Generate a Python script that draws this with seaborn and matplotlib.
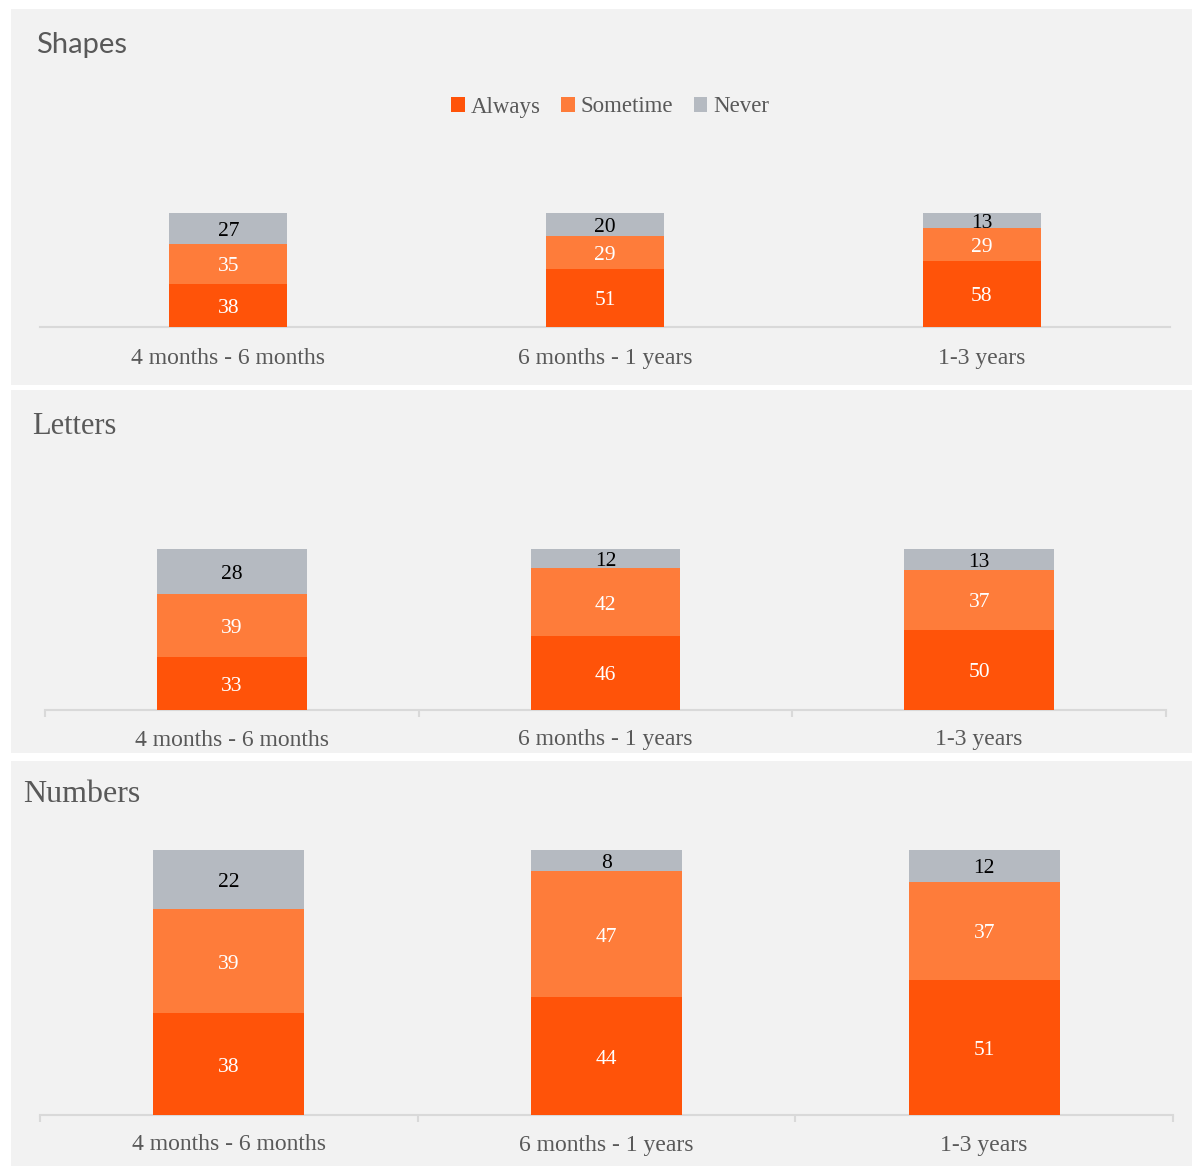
import matplotlib
matplotlib.use("Agg")
import matplotlib.pyplot as plt
from matplotlib.patches import Rectangle, Patch
import numpy as np
import seaborn as sns

categories = ["4 months - 6 months", "6 months - 1 years", "1-3 years"]
series_names = ["Always", "Sometime", "Never"]

shapes_always = [38, 51, 58]
shapes_sometime = [35, 29, 29]
shapes_never = [27, 20, 13]

letters_always = [33, 46, 50]
letters_sometime = [39, 42, 37]
letters_never = [28, 12, 13]

numbers_always = [38, 44, 51]
numbers_sometime = [39, 47, 37]
numbers_never = [22, 8, 12]

sns.set_theme(style="white")
plt.rcParams["font.family"] = ["Liberation Serif", "DejaVu Serif"]

COL_ALWAYS = "#FF5309"
COL_SOMETIME = "#FE7C3A"
COL_NEVER = "#B5BAC1"
PANEL_BG = "#F2F2F2"
AXIS_COL = "#D9D9D9"
TEXT_COL = "#595959"

W, H = 1193, 1167
fig = plt.figure(figsize=(W / 100, H / 100), dpi=100, facecolor="white")


def fx(px):
    return px / W


def fy(py):
    return 1 - py / H


# panel backgrounds (pixel boxes: left, top, right, bottom)
for (l, t, r, b) in [(11, 9, 1192, 385), (11, 390, 1192, 753), (11, 761, 1192, 1166)]:
    fig.patches.append(Rectangle((fx(l), fy(b)), fx(r - l), (b - t) / H,
                                 transform=fig.transFigure, facecolor=PANEL_BG,
                                 edgecolor="none", zorder=-5))

panels = [
    dict(title="Shapes", tx=36, ty=45, tfont=["Lato", "DejaVu Sans"], tsize=21,
         always=shapes_always, sometime=shapes_sometime, never=shapes_never,
         box=(40, 1170, 213, 327), width=0.313, ticks=False, label_y=358),
    dict(title="Letters", tx=32, ty=427, tfont=["Liberation Serif"], tsize=22,
         always=letters_always, sometime=letters_sometime, never=letters_never,
         box=(45, 1166, 549, 710), width=0.40, ticks=True, label_y=740),
    dict(title="Numbers", tx=23, ty=794, tfont=["Liberation Serif"], tsize=23,
         always=numbers_always, sometime=numbers_sometime, never=numbers_never,
         box=(40, 1173, 850, 1115), width=0.40, ticks=True, label_y=1145),
]

for p in panels:
    l, r, t, b = p["box"]
    ax = fig.add_axes([fx(l), fy(b), fx(r - l), (b - t) / H])
    ax.set_facecolor("none")

    a = np.array(p["always"], float)
    s = np.array(p["sometime"], float)
    n = np.array(p["never"], float)
    total = a + s + n
    a_pct, s_pct, n_pct = a / total * 100, s / total * 100, n / total * 100

    # 100% stacked bars: draw cumulative heights from the tallest down
    layers = [
        (a_pct + s_pct + n_pct, COL_NEVER),
        (a_pct + s_pct, COL_SOMETIME),
        (a_pct, COL_ALWAYS),
    ]
    for heights, col in layers:
        sns.barplot(x=categories, y=heights, color=col, saturation=1,
                    width=p["width"], linewidth=0, ax=ax, zorder=2)

    # segment value labels
    for i in range(len(categories)):
        bottoms = [0, a_pct[i], a_pct[i] + s_pct[i]]
        segs = [(a_pct[i], p["always"][i], "white"),
                (s_pct[i], p["sometime"][i], "white"),
                (n_pct[i], p["never"][i], "black")]
        for bot, (h, v, c) in zip(bottoms, segs):
            ax.annotate(f"{v}", (i, bot + h / 2), xytext=(0, -3),
                        textcoords="offset pixels", ha="center", va="center",
                        color=c, fontsize=15.5, zorder=3)

    ax.set_xlim(-0.5, 2.5)
    ax.set_ylim(0, 100)
    ax.set_xlabel("")
    ax.set_ylabel("")
    ax.set_yticks([])
    for side in ["top", "left", "right"]:
        ax.spines[side].set_visible(False)
    ax.spines["bottom"].set_color(AXIS_COL)
    ax.spines["bottom"].set_linewidth(1.5)
    ax.spines["bottom"].set_zorder(1)
    ax.set_xticks(range(len(categories)))
    ax.set_xticklabels([])
    ax.tick_params(axis="x", which="major", length=0)
    if p["ticks"]:
        ax.set_xticks([-0.5, 0.5, 1.5, 2.5], minor=True)
        ax.tick_params(axis="x", which="minor", bottom=True, length=5, width=1.5,
                       color=AXIS_COL, direction="out")
    for i, c in enumerate(categories):
        fig.text(fx(l + (r - l) * (i + 0.5) / 3), fy(p["label_y"]), c,
                 ha="center", va="center", color=TEXT_COL, fontsize=17)

    fig.text(fx(p["tx"]), fy(p["ty"]), p["title"], ha="left", va="center",
             color=TEXT_COL, fontsize=p["tsize"], family=p["tfont"])

handles = [Patch(facecolor=COL_ALWAYS, edgecolor="none"),
           Patch(facecolor=COL_SOMETIME, edgecolor="none"),
           Patch(facecolor=COL_NEVER, edgecolor="none")]
leg = fig.legend(handles, series_names, loc="center", bbox_to_anchor=(fx(610), fy(107)),
                 ncol=3, frameon=False, fontsize=16.5, handlelength=0.6, handleheight=0.6,
                 handletextpad=0.25, columnspacing=0.9)
for txt in leg.get_texts():
    txt.set_color(TEXT_COL)

fig.savefig("out.png", dpi=100, facecolor="white")
